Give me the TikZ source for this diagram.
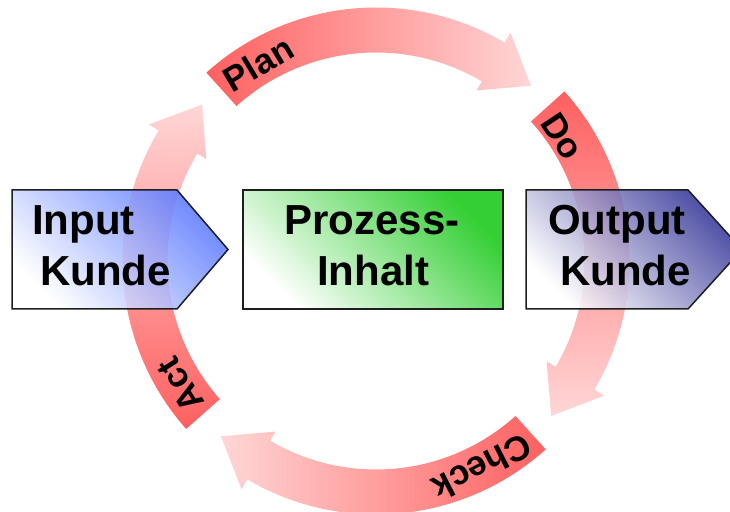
\documentclass[tikz,border=0pt]{standalone}
\usepackage{fontspec}
\setmainfont{Liberation Sans}
\definecolor{arrowred}{RGB}{255,96,96}
\definecolor{arrowpale}{RGB}{255,214,214}
\definecolor{inblue}{RGB}{92,122,255}
\definecolor{outblue}{RGB}{52,52,152}
\definecolor{procgreen}{RGB}{24,200,24}
\definecolor{edge}{RGB}{30,30,30}

% one curved arrow of the cycle: #1 = angle of its tail, #2 = shading keys
\newcommand{\cyclearrow}[2]{%
  \pgfmathsetmacro{\barbangle}{#1-72.5}%
  \pgfmathsetmacro{\tipangle}{#1-83.5}%
  \shade[#2] (#1:253.5) arc[start angle=#1, end angle=\barbangle, radius=253.5]
    -- (\barbangle:265) -- (\tipangle:234) -- (\barbangle:198) -- (\barbangle:208.5)
    arc[start angle=\barbangle, end angle=#1, radius=208.5] -- cycle;
}

\begin{document}
\begin{tikzpicture}[x=1pt,y=1pt,
  boxtext/.style={font=\bfseries\fontsize{42}{50}\selectfont, inner sep=0pt},
  steplabel/.style={font=\bfseries\fontsize{35}{42}\selectfont, inner sep=0pt},
  boxshape/.style={draw=edge, line width=1.5pt, fill opacity=0.88, left color=white, right color=#1, shading angle=135}]
\useasboundingbox (0,0) rectangle (730,511);
\begin{scope}
\clip (0,0) rectangle (730,511);

% the four arrows of the cycle, centred in the picture
\begin{scope}[shift={(376,250)}]
  \cyclearrow{132}{left color=arrowred, right color=arrowpale}
  \cyclearrow{42}{top color=arrowred, bottom color=arrowpale}
  \cyclearrow{-48}{right color=arrowred, left color=arrowpale}
  \cyclearrow{221.5}{bottom color=arrowred, top color=arrowpale}

  \node[steplabel, rotate=30.8]  (plan)  at (120.8:230) {Plan};
  \node[steplabel, rotate=-56.3] (do)    at (33.7:224)  {Do};
  \node[steplabel, rotate=207.2] (check) at (-62.8:232) {Check};
  \node[steplabel, rotate=122.3] (act)   at (212.3:232) {Act};
\end{scope}

% input, process and output boxes
\shade[boxshape=inblue]
  (12,321) -- (177,321) -- (228,261.5) -- (177,202) -- (12,202) -- cycle;
\shade[boxshape=procgreen]
  (243,202) rectangle (503,321);
\shade[boxshape=outblue]
  (526,202) -- (526,321) -- (688,321) -- (742,261.5) -- (688,202) -- cycle;

\node[boxtext, anchor=base west] (in1) at (32,276) {Input};
\node[boxtext, anchor=base west] (in2) at (40,225) {Kunde};
\node[boxtext, anchor=base] (pr1) at (372,276) {Prozess-};
\node[boxtext, anchor=base] (pr2) at (373,225) {Inhalt};
\node[boxtext, anchor=base west] (out1) at (548,276) {Output};
\node[boxtext, anchor=base west] (out2) at (560,225) {Kunde};
\end{scope}
\end{tikzpicture}
\end{document}
